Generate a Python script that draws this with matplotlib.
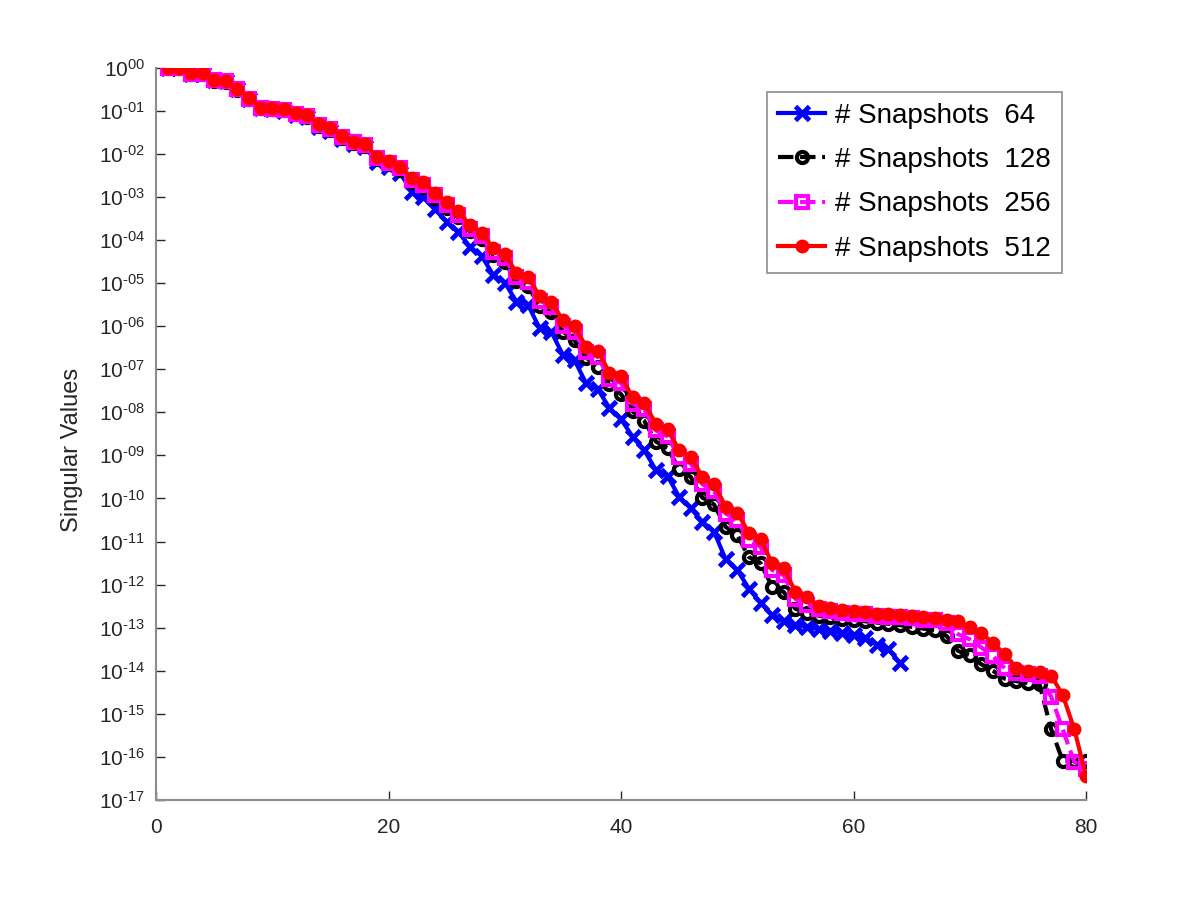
import numpy as np
import matplotlib
matplotlib.use("Agg")
import matplotlib.pyplot as plt
from matplotlib.ticker import FixedLocator, FuncFormatter

plt.rcParams['font.family'] = ['Liberation Sans', 'DejaVu Sans']
plt.rcParams['mathtext.fontset'] = 'custom'
plt.rcParams['mathtext.rm'] = 'Liberation Sans'

# singular values, stored as log10 exponents
log_sv_64 = [0.0, -0.01, -0.14, -0.14, -0.30, -0.32, -0.51, -0.73, -0.95, -0.97,
             -1.00, -1.10, -1.16, -1.38, -1.48, -1.65, -1.78, -1.85, -2.20, -2.32,
             -2.45, -2.88, -3.00, -3.29, -3.58, -3.81, -4.16, -4.37, -4.81, -4.99,
             -5.43, -5.51, -6.05, -6.13, -6.67, -6.79, -7.33, -7.46, -7.90, -8.16,
             -8.57, -8.88, -9.34, -9.48, -9.96, -10.23, -10.54, -10.77, -11.41, -11.66,
             -12.09, -12.42, -12.71, -12.84, -12.93, -12.98, -13.03, -13.08, -13.13, -13.18,
             -13.23, -13.40, -13.50, -13.82]

log_sv_128 = [-0.01, -0.02, -0.15, -0.15, -0.31, -0.33, -0.52, -0.73, -0.95, -0.97,
              -0.99, -1.09, -1.14, -1.35, -1.44, -1.63, -1.76, -1.82, -2.13, -2.24,
              -2.37, -2.66, -2.77, -3.02, -3.25, -3.48, -3.80, -3.99, -4.36, -4.52,
              -4.96, -5.08, -5.53, -5.68, -6.13, -6.33, -6.73, -6.95, -7.35, -7.58,
              -7.98, -8.20, -8.68, -8.83, -9.32, -9.50, -9.98, -10.14, -10.66, -10.85,
              -11.36, -11.50, -12.05, -12.17, -12.56, -12.65, -12.72, -12.76, -12.79, -12.82,
              -12.85, -12.88, -12.91, -12.94, -12.98, -13.02, -13.06, -13.19, -13.54, -13.64,
              -13.85, -14.00, -14.18, -14.24, -14.28, -14.31, -15.35, -16.09, -16.09, -16.10]

log_sv_256 = [0.0, -0.01, -0.14, -0.14, -0.30, -0.32, -0.51, -0.72, -0.94, -0.96,
              -0.98, -1.08, -1.12, -1.33, -1.42, -1.61, -1.74, -1.79, -2.11, -2.21,
              -2.34, -2.62, -2.72, -2.97, -3.19, -3.42, -3.74, -3.92, -4.29, -4.43,
              -4.87, -4.98, -5.42, -5.55, -6.00, -6.14, -6.61, -6.71, -7.22, -7.32,
              -7.80, -7.93, -8.42, -8.56, -9.04, -9.19, -9.67, -9.83, -10.35, -10.50,
              -10.97, -11.12, -11.66, -11.78, -12.33, -12.47, -12.56, -12.61, -12.65, -12.67,
              -12.69, -12.72, -12.74, -12.76, -12.78, -12.81, -12.83, -12.90, -13.15, -13.27,
              -13.46, -13.66, -13.94, -14.04, -14.07, -14.11, -14.60, -15.36, -16.12, -16.28]

log_sv_512 = [0.0, -0.005, -0.13, -0.13, -0.29, -0.31, -0.50, -0.71, -0.93, -0.95,
              -0.97, -1.06, -1.10, -1.31, -1.40, -1.59, -1.72, -1.77, -2.08, -2.17,
              -2.30, -2.57, -2.66, -2.91, -3.12, -3.34, -3.65, -3.83, -4.19, -4.33,
              -4.76, -4.87, -5.30, -5.43, -5.87, -6.01, -6.48, -6.57, -7.08, -7.17,
              -7.65, -7.78, -8.27, -8.40, -8.88, -9.03, -9.51, -9.67, -10.19, -10.33,
              -10.80, -10.95, -11.50, -11.62, -12.16, -12.29, -12.49, -12.54, -12.58, -12.61,
              -12.63, -12.67, -12.68, -12.71, -12.73, -12.76, -12.78, -12.82, -12.85, -12.99,
              -13.12, -13.36, -13.61, -13.93, -14.01, -14.02, -14.11, -14.56, -15.36, -16.44]

labels = ['# Snapshots  64', '# Snapshots  128', '# Snapshots  256', '# Snapshots  512']
y_decades = list(range(-17, 1))
x_ticks = [0, 20, 40, 60, 80]


def decade_label(v, pos):
    d = int(round(np.log10(v)))
    exp = '00' if d == 0 else '-%02d' % abs(d)
    return r'$\mathregular{10^{\text{%s}}}$' % exp


fig = plt.figure(figsize=(12, 9), dpi=100)
ax = fig.add_axes([0.13, 0.111, 0.775, 0.814])

n64 = np.arange(1, len(log_sv_64) + 1)
n = np.arange(1, len(log_sv_512) + 1)

ax.semilogy(n64, 10.0 ** np.array(log_sv_64), '-', color='#0000ff', lw=3,
            marker='x', ms=10, mew=3.5, label=labels[0])
ax.semilogy(n, 10.0 ** np.array(log_sv_128), '--', color='black', lw=3,
            marker='o', ms=8, mew=3, mfc='none', label=labels[1])
ax.semilogy(n, 10.0 ** np.array(log_sv_256), '--', color='#ff00ff', lw=3,
            marker='s', ms=9, mew=3, mfc='none', label=labels[2])
ax.semilogy(n, 10.0 ** np.array(log_sv_512), '-', color='#ff0000', lw=3,
            marker='o', ms=9, label=labels[3])

ax.set_xlim(0, 80)
ax.set_ylim(1e-17, 1e0)
ax.xaxis.set_major_locator(FixedLocator(x_ticks))
ax.yaxis.set_major_locator(FixedLocator([10.0 ** d for d in y_decades]))
ax.yaxis.set_minor_locator(FixedLocator([]))
ax.yaxis.set_major_formatter(FuncFormatter(decade_label))

for side in ['top', 'right']:
    ax.spines[side].set_visible(False)
for side in ['left', 'bottom']:
    ax.spines[side].set_color('#8c8c8c')
    ax.spines[side].set_linewidth(1.5)

ax.tick_params(axis='both', direction='in', length=6.5, width=1, color='#262626',
               labelcolor='#262626', labelsize=15)
ax.tick_params(axis='x', pad=13)
ax.tick_params(axis='y', pad=8)

ax.set_ylabel('Singular Values', fontsize=17, color='#262626')
ax.yaxis.set_label_coords(-0.079, 0.478)

leg = ax.legend(loc='upper right', bbox_to_anchor=(0.974, 0.967), fontsize=20,
                fancybox=False, framealpha=1, edgecolor='#8c8c8c', borderaxespad=0,
                handlelength=1.7, handletextpad=0.35, labelspacing=0.66, borderpad=0.4)
leg.get_frame().set_linewidth(1.2)

fig.savefig('out.png', dpi=100, facecolor='white')
